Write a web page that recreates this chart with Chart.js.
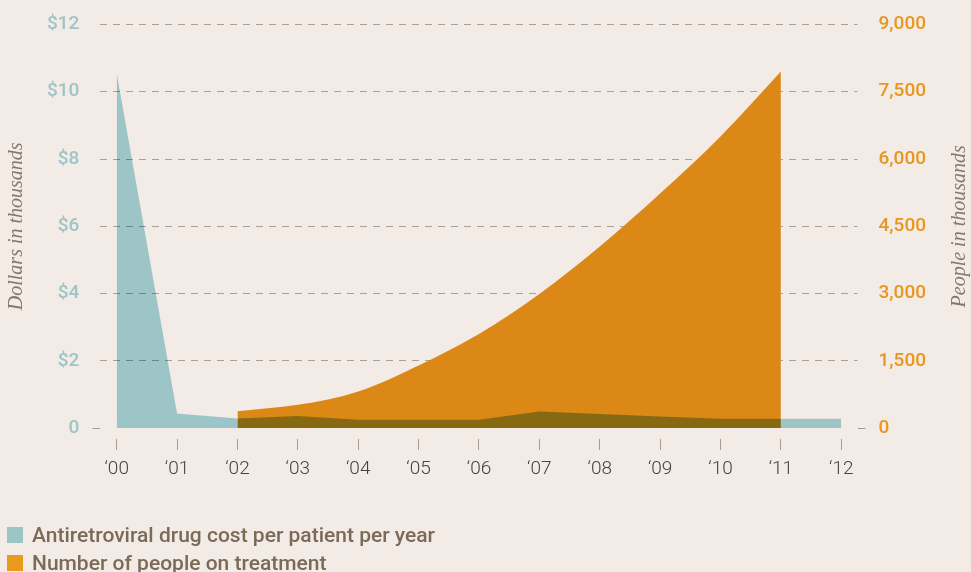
<!DOCTYPE html>
<html>
<head>
<meta charset="utf-8">
<script src="https://cdn.jsdelivr.net/npm/chart.js@4"></script>
<style>
  html, body { margin: 0; padding: 0; background: #f2ebe6; }
  #wrap { position: relative; width: 971px; height: 572px; overflow: hidden; }
  #legend { position: absolute; left: 7px; top: 521px; font-family: Roboto, sans-serif; font-weight: 500; font-size: 21px; color: #7b6a57; }
  .item { display: flex; align-items: center; height: 28px; white-space: nowrap; }
  .box { width: 16px; height: 16px; margin-right: 9px; }
</style>
</head>
<body>
<div id="wrap">
  <canvas id="myChart" width="971" height="572"></canvas>
  <div id="legend"></div>
</div>
<script>
/* Datos ------------------------------------------------------------------ */
const years = ["‘00", "‘01", "‘02", "‘03", "‘04", "‘05", "‘06", "‘07", "‘08", "‘09", "‘10", "‘11", "‘12"];
// dolares (miles) por paciente por año
const drugCost = [10.55, 0.44, 0.29, 0.36, 0.25, 0.25, 0.25, 0.5, 0.42, 0.35, 0.28, 0.28, 0.28];
// personas en tratamiento (miles)
const people = [null, null, 380, 520, 820, 1400, 2100, 2990, 4050, 5230, 6500, 7950, null];
const dollarTicks = [0, 2, 4, 6, 8, 10, 12];
const peopleTicks = [0, 1500, 3000, 4500, 6000, 7500, 9000];
const labels = ["Antiretroviral drug cost per patient per year", "Number of people on treatment"];
const leftTitle = "Dollars in thousands";
const rightTitle = "People in thousands";

const teal = "#9dc5c8";
const orange = "#dc8816";
const gridColor = "rgba(80, 70, 60, 0.45)";

/* Plugins ---------------------------------------------------------------- */
// el area azul se mezcla con la naranja (tono oliva en la zona comun)
// la naranja (indice 1) se dibuja primero, asi que el modo se activa al terminarla
const multiplyPlugin = {
  id: 'multiply',
  afterDatasetDraw(chart, args) {
    if (args.index === 1) {
      chart.ctx.save();
      chart.ctx.globalCompositeOperation = 'multiply';
    } else if (args.index === 0) {
      chart.ctx.restore();
    }
  }
};

// titulos de ejes, los dos leidos de abajo hacia arriba
const axisTitles = {
  id: 'axisTitles',
  afterDraw(chart) {
    const { ctx, chartArea } = chart;
    const mid = (chartArea.top + chartArea.bottom) / 2;
    ctx.save();
    ctx.font = 'italic 20px "Liberation Serif"';
    ctx.fillStyle = '#85796d';
    ctx.textAlign = 'center';
    ctx.textBaseline = 'middle';
    [[17, leftTitle], [960, rightTitle]].forEach(([x, t]) => {
      ctx.save();
      ctx.translate(x, mid);
      ctx.rotate(-Math.PI / 2);
      ctx.fillText(t, 0, 0);
      ctx.restore();
    });
    ctx.restore();
  }
};

/* Grafico ---------------------------------------------------------------- */
const data = {
  datasets: [
    {
      label: labels[0],
      data: drugCost.map((v, i) => ({ x: i, y: v })),
      yAxisID: 'y',
      backgroundColor: teal,
      borderWidth: 0,
      pointRadius: 0,
      tension: 0,
      fill: 'origin'
    },
    {
      label: labels[1],
      data: people.map((v, i) => ({ x: i, y: v })),
      yAxisID: 'y1',
      backgroundColor: orange,
      borderWidth: 0,
      pointRadius: 0,
      cubicInterpolationMode: 'monotone',
      fill: 'origin'
    }
  ]
};

const tickFont = { family: 'Roboto', size: 19, weight: '500' };

const config = {
  type: 'line',
  data: data,
  plugins: [multiplyPlugin, axisTitles],
  options: {
    responsive: false,
    animation: false,
    layout: { padding: { left: 34, right: 32, top: 12, bottom: 83 } },
    plugins: {
      legend: { display: false },
      tooltip: { enabled: false }
    },
    scales: {
      x: {
        type: 'linear',
        min: -0.27,
        max: 12.27,
        afterBuildTicks: s => { s.ticks = years.map((_, i) => ({ value: i })); },
        ticks: {
          callback: v => years[v],
          color: '#45423f',
          font: { family: 'Roboto', size: 19, weight: '300' },
          padding: 8,
          maxRotation: 0
        },
        grid: {
          drawOnChartArea: false,
          tickLength: 22,
          tickColor: '#a59d96',
          tickBorderDash: [11, 11],
          tickBorderDashOffset: 11
        },
        border: { display: false }
      },
      y: {
        position: 'left',
        min: 0,
        max: 12,
        z: 1,
        afterBuildTicks: s => { s.ticks = dollarTicks.map(v => ({ value: v })); },
        ticks: {
          callback: v => v === 0 ? '0' : '$' + v,
          color: teal,
          font: tickFont,
          padding: 13
        },
        grid: {
          color: c => c.tick && c.tick.value === 0 ? 'transparent' : gridColor,
          tickColor: c => c.tick && c.tick.value === 0 ? '#a59d96' : 'transparent',
          tickLength: 8
        },
        border: { display: false, dash: [7, 6] }
      },
      y1: {
        position: 'right',
        min: 0,
        max: 9000,
        afterBuildTicks: s => { s.ticks = peopleTicks.map(v => ({ value: v })); },
        ticks: {
          callback: v => v.toLocaleString('en-US'),
          color: '#e8961e',
          font: tickFont,
          padding: 13
        },
        grid: {
          drawOnChartArea: false,
          tickColor: c => c.tick && c.tick.value === 0 ? '#a59d96' : 'transparent',
          tickLength: 8
        },
        border: { display: false }
      }
    }
  }
};

const myChart = new Chart(document.getElementById('myChart'), config);

/* Leyenda HTML (una fila por serie) -------------------------------------- */
const legendColors = [teal, '#ec9a1f'];
document.getElementById('legend').innerHTML = myChart.data.datasets.map((d, i) =>
  `<div class="item"><span class="box" style="background:${legendColors[i]}"></span>${d.label}</div>`
).join('');
</script>
</body>
</html>
